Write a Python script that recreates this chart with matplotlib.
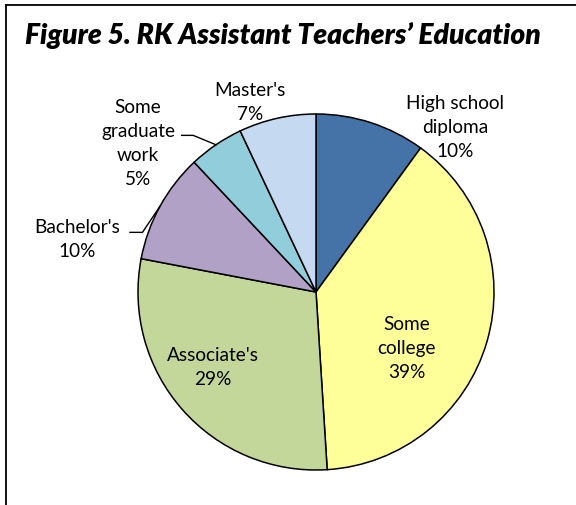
import numpy as np
import matplotlib
matplotlib.use('Agg')
import matplotlib.pyplot as plt
from matplotlib.lines import Line2D

# 数据
categories = ["High school\ndiploma", "Some\ncollege", "Associate's", "Bachelor's",
              "Some\ngraduate\nwork", "Master's"]
percents = [10, 39, 29, 10, 5, 7]
colors = ['#4573A7', '#FFFF99', '#C4D79B', '#B2A1C7', '#92CDDC', '#C5D9F1']

# 标签位置（相对饼图半径）
label_pos = [(0.78, 0.93), (0.51, -0.31), (-0.58, -0.42), (-1.34, 0.30),
             (-1.0, 0.84), (-0.37, 1.07)]

plt.rcParams['font.family'] = ['Lato', 'DejaVu Sans']

W, H = 576, 506
fig = plt.figure(figsize=(W / 100, H / 100), dpi=100, facecolor='white')

# 饼图中心和半径（像素）
cx, cy, r = 316, 293, 178
ax = fig.add_axes([(cx - r) / W, (H - cy - r) / H, 2 * r / W, 2 * r / H])
wedges, _ = ax.pie(percents, colors=colors, startangle=90, counterclock=False,
                   radius=1, wedgeprops=dict(edgecolor='black', linewidth=1.1))
ax.set_xlim(-1, 1)
ax.set_ylim(-1, 1)
ax.axis('off')

for name, pct, (x, y) in zip(categories, percents, label_pos):
    ax.text(x, y, f"{name}\n{pct}%", ha='center', va='center', fontsize=13.7,
            linespacing=1.5, color='black')

# 引导线
def edge_point(w):
    mid = np.deg2rad((w.theta1 + w.theta2) / 2)
    return np.cos(mid), np.sin(mid)

ex, ey = edge_point(wedges[4])
ax.plot([-0.755, -0.69, ex], [0.88, 0.88, ey], color='black', lw=1, clip_on=False)
ex, ey = edge_point(wedges[3])
ax.plot([-1.045, -0.975, ex], [0.335, 0.335, ey], color='black', lw=1, clip_on=False)

# 标题
fig.text(25 / W, 1 - 35 / H, "Figure 5. RK Assistant Teachers\u2019 Education",
         fontsize=20.3, fontweight='heavy', fontstyle='italic', ha='left', va='center')

# 外框（左、上）
fig.add_artist(Line2D([6 / W, 6 / W], [0, 1 - 6 / H], color='black', lw=1.3,
                      transform=fig.transFigure))
fig.add_artist(Line2D([6 / W, 1], [1 - 6 / H, 1 - 6 / H], color='black', lw=1.3,
                      transform=fig.transFigure))

fig.savefig('out.png', dpi=100, facecolor='white')
